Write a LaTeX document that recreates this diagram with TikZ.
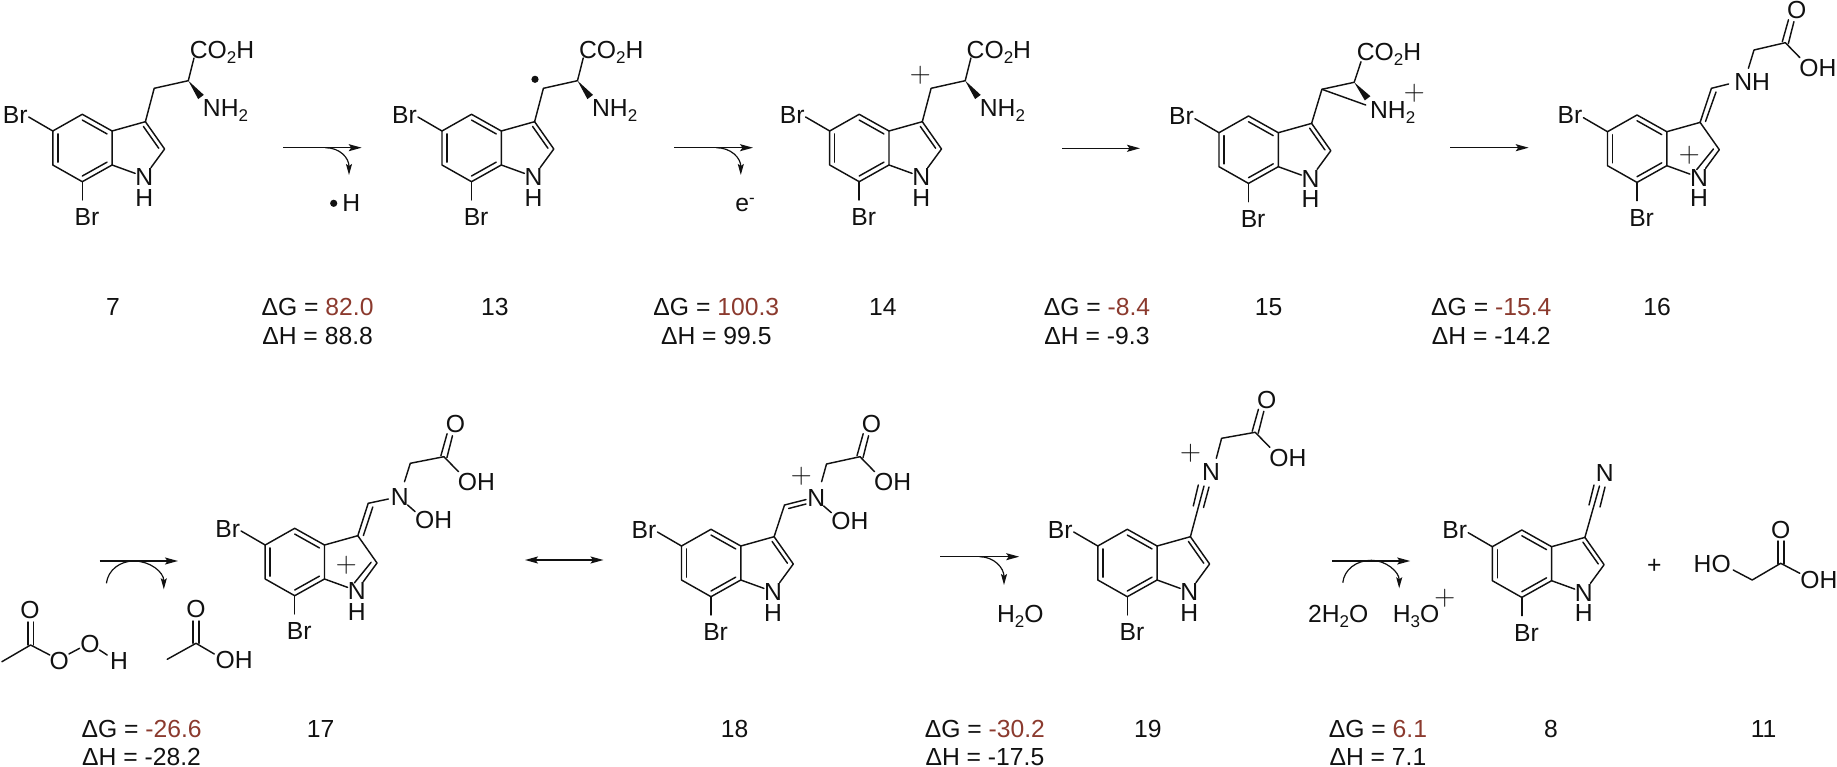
\documentclass[tikz,border=0pt]{standalone}
\usepackage{fontspec}
\usetikzlibrary{arrows.meta,calc}
\newfontfamily\arialf{Liberation Sans}
\definecolor{brn}{HTML}{8B3A2E}
\definecolor{ink}{HTML}{111111}
\tikzset{
  bond/.style={line width=1.45pt,draw=ink,line cap=round},
  lbl/.style={font=\arialf\fontsize{24.7}{25}\selectfont,text=ink,inner sep=0pt,text height=17.5pt,text depth=0pt},
  plusn/.style={font=\rmfamily\fontsize{29}{29}\selectfont,text=ink,inner sep=0pt},
  rxn/.style={line width=1.45pt,draw=ink,-{Stealth[length=13pt,width=7pt,inset=2.5pt]}},
  dblrxn/.style={line width=1.45pt,draw=ink,{Stealth[length=13pt,width=7pt,inset=2.5pt]}-{Stealth[length=13pt,width=7pt,inset=2.5pt]}},
  curv/.style={line width=1.2pt,draw=ink,-{Stealth[length=11pt,width=6pt,inset=2pt]}},
}
\newcommand{\lsub}[1]{\raisebox{-5pt}{\fontsize{17}{18}\selectfont #1}}
% indole benzo ring, anchored at C4
\newcommand{\indole}[3]{%
  \begin{scope}[shift={(#2,#3)}]
    \coordinate (#1c4) at (0,0);
    \coordinate (#1c3a) at (29.8,16.7);
    \coordinate (#1c7a) at (29.8,50.7);
    \coordinate (#1c7) at (0,67.4);
    \coordinate (#1c6) at (-29.5,50.7);
    \coordinate (#1c5) at (-29.5,16.7);
    \coordinate (#1c3) at (63.1,7.4);
    \coordinate (#1c2) at (82.3,34.7);
    \coordinate (#1hc) at (0,33.9);
    \coordinate (#1pc) at (53,31);
    \coordinate (#1b5) at (-53.6,2.7);
    \coordinate (#1b7) at (0,85.7);
    \node[lbl] (#1n) at (62,62.4) {N};
    \node[lbl] (#1h) at (62,83) {H};
    \node[lbl] (#1br5) at (-67,0) {Br};
    \node[lbl] (#1br7) at (4.6,102.4) {Br};
  \end{scope}
  \draw[bond,line join=round] (#1c4)--(#1c3a)--(#1c7a)--(#1c7)--(#1c6)--(#1c5)--cycle;
  \draw[bond] ($(#1c4)!.17!(#1hc)$)--($(#1c3a)!.17!(#1hc)$);
  \draw[bond] ($(#1c7a)!.17!(#1hc)$)--($(#1c7)!.17!(#1hc)$);
  \draw[bond] ($(#1c6)!.17!(#1hc)$)--($(#1c5)!.17!(#1hc)$);
  \draw[bond] (#1c3a)--(#1c3);
  \draw[bond] (#1c7a)--(#1n);
  \draw[bond] (#1c5)--(#1b5);
  \draw[bond] (#1c7)--(#1b7);
}
% neutral pyrrole part: C2=C3
\newcommand{\ringn}[1]{%
  \draw[bond,line join=round] (#1c3)--(#1c2)--(#1n);
  \draw[bond] ($(#1c3)!.2!(#1pc)$)--($(#1c2)!.2!(#1pc)$);
}
% iminium pyrrole part: C2=N
\newcommand{\ringp}[1]{%
  \draw[bond,line join=round] (#1c3)--(#1c2)--(#1n);
  \draw[bond] ($(#1c2)!.2!(#1pc)$)--($(#1n)!.25!(#1pc)$);
}
% amino-acid side chain relative to C4
\newcommand{\sidechain}[3]{%
  \begin{scope}[shift={(#2,#3)}]
    \coordinate (#1ch2) at (71.9,-26);
    \coordinate (#1ch) at (106,-33.6);
    \coordinate (#1cb) at (111.7,-56.3);
    \coordinate (#1we) at (118.7,-17.3);
    \coordinate (#1wa) at (121.5,-19.4);
    \coordinate (#1wb) at (115.9,-15.2);
    \node[lbl] (#1co) at (139.7,-64.3) {CO\lsub{2}H};
    \node[lbl] (#1nh) at (143.2,-6.6) {NH\lsub{2}};
  \end{scope}
  \draw[bond,line join=round] (#1c3)--(#1ch2)--(#1ch)--(#1cb);
  \fill[ink] (#1ch)--(#1wa)--(#1wb)--cycle;
}
% carboxylic acid at carbon position
\newcommand{\acid}[3]{%
  \begin{scope}[shift={(#2,#3)}]
    \coordinate (#1k) at (0,0);
    \coordinate (#1ka) at (-3,-1);
    \coordinate (#1kb) at (3,1);
    \coordinate (#1oa) at (3.2,-23);
    \coordinate (#1ob) at (8.6,-21);
    \coordinate (#1oe) at (14.6,15);
    \node[lbl] (#1o) at (11.5,-32.7) {O};
    \node[lbl] (#1oh) at (32.6,25) {OH};
  \end{scope}
  \draw[bond] (#1ka)--(#1oa);
  \draw[bond] (#1kb)--(#1ob);
  \draw[bond] (#1k)--(#1oe);
}
\begin{document}
\begin{tikzpicture}[x=1pt,y=-1pt]
\useasboundingbox (0,0) rectangle (1837,767);

% --- 7
\indole{a}{82.3}{114.3}\ringn{a}\sidechain{a}{82.3}{114.3}
% --- 13
\indole{b}{471.5}{114.3}\ringn{b}\sidechain{b}{471.5}{114.3}
\coordinate (bdot) at (535,79.3);
\fill[ink] (bdot) circle (3.6pt);
% --- 14
\indole{c}{859.2}{114.3}\ringn{c}\sidechain{c}{859.2}{114.3}
\node[plusn] (cplus) at (920.4,75) {+};
% --- 15
\indole{d}{1248.5}{116}\ringn{d}
\coordinate (dch2) at (1321.9,89.3);
\coordinate (dch) at (1354.2,82.3);
\coordinate (dcb) at (1361,61.7);
\coordinate (dwa) at (1370.4,96.2);
\coordinate (dwb) at (1364.8,100.4);
\coordinate (dne) at (1365.7,105);
\node[lbl] (dco) at (1389,51.7) {CO\lsub{2}H};
\node[lbl] (dnh) at (1392.7,110) {NH\lsub{2}};
\node[plusn] (dplus) at (1414.4,93.3) {+};
\draw[bond,line join=round] (dc3)--(dch2)--(dch)--(dcb);
\draw[bond] (dch2)--(dne);
\fill[ink] (dch)--(dwa)--(dwb)--cycle;
% --- 16
\indole{e}{1637}{115}\ringp{e}
\coordinate (ex) at (1711.4,88.3);
\coordinate (exa) at (1716,92);
\coordinate (exb) at (1705.5,121.5);
\coordinate (exn) at (1728.6,84);
\node[lbl] (enh) at (1752.2,81.7) {NH};
\coordinate (eup) at (1748.4,68.3);
\coordinate (ech2) at (1754,50);
\node[plusn] (eplus) at (1689.4,155) {+};
\draw[bond] (ec3)--(ex)--(exn);
\draw[bond] (exa)--(exb);
\acid{ea}{1785.3}{42.7}
\draw[bond,line join=round] (eup)--(ech2)--(eak);
% --- 17
\indole{f}{294.7}{528.3}\ringp{f}
\coordinate (fx) at (368.2,503.3);
\coordinate (fxa) at (372.8,507);
\coordinate (fxb) at (363.4,535.5);
\coordinate (fxn) at (388.4,499);
\node[lbl] (fnn) at (399.9,496.7) {N};
\node[lbl] (fohn) at (433.6,520) {OH};
\coordinate (fup) at (404.5,481.7);
\coordinate (fch2) at (410.3,463.3);
\coordinate (fno1) at (407.6,505);
\coordinate (fno2) at (415.2,511.7);
\node[plusn] (fplus) at (346.3,565.7) {+};
\draw[bond] (fc3)--(fx)--(fxn);
\draw[bond] (fxa)--(fxb);
\draw[bond] (fno1)--(fno2);
\acid{fa}{443.9}{456.7}
\draw[bond,line join=round] (fup)--(fch2)--(fak);
% --- 18
\indole{g}{711}{529.3}\ringn{g}
\coordinate (gx) at (784.5,505);
\coordinate (gxn) at (806,499.6);
\coordinate (gxa) at (788.6,508.5);
\coordinate (gxb) at (806,504);
\node[lbl] (gnn) at (816.3,497.3) {N};
\node[lbl] (gohn) at (849.8,520.7) {OH};
\coordinate (gup) at (821.6,481.7);
\coordinate (gch2) at (826.5,464);
\coordinate (gno1) at (823.7,506);
\coordinate (gno2) at (831.4,512.7);
\node[plusn] (gplus) at (801.2,476) {+};
\draw[bond] (gc3)--(gx)--(gxn);
\draw[bond] (gxa)--(gxb);
\draw[bond] (gno1)--(gno2);
\acid{ga}{860}{456.7}
\draw[bond,line join=round] (gup)--(gch2)--(gak);
% --- 19
\indole{h}{1127.3}{529.3}\ringn{h}
\node[lbl] (hnn) at (1211,471.7) {N};
\coordinate (ht) at (1204,486);
\coordinate (hta) at (1193.3,506);
\coordinate (htb) at (1198.3,485);
\coordinate (htc) at (1203.5,507.5);
\coordinate (htd) at (1209,487);
\coordinate (hup) at (1216.3,458.3);
\coordinate (hch2) at (1221.6,438.3);
\node[plusn] (hplus) at (1190.5,453.5) {+};
\draw[bond] (hc3)--(ht);
\draw[bond] (hta)--(htb);
\draw[bond] (htc)--(htd);
\acid{ha}{1255.2}{432.3}
\draw[bond,line join=round] (hup)--(hch2)--(hak);
% --- 8
\indole{i}{1521.8}{530}\ringn{i}
\node[lbl] (inn) at (1604.8,472.7) {N};
\coordinate (it) at (1599.5,486);
\coordinate (ita) at (1589,505);
\coordinate (itb) at (1594,485);
\coordinate (itc) at (1600,507);
\coordinate (itd) at (1605,487);
\draw[bond] (ic3)--(it);
\draw[bond] (ita)--(itb);
\draw[bond] (itc)--(itd);
\node[lbl] (iplus) at (1654.3,565) {+};
% --- 11
\node[lbl] (jho) at (1712.2,563.3) {HO};
\coordinate (jb1) at (1733.2,570);
\coordinate (jch2) at (1752.2,580);
\coordinate (jc) at (1780.7,563.3);
\coordinate (jca) at (1778,564);
\coordinate (jcb) at (1784,564);
\coordinate (joa) at (1778,541);
\coordinate (job) at (1784,541);
\coordinate (joe) at (1799.8,573.3);
\node[lbl] (jo) at (1780.7,529.3) {O};
\node[lbl] (joh) at (1818.8,580) {OH};
\draw[bond,line join=round] (jb1)--(jch2)--(jc)--(joe);
\draw[bond] (jca)--(joa);
\draw[bond] (jcb)--(job);
% --- peracid
\coordinate (kme) at (1.9,661.7);
\coordinate (kc) at (30.6,645);
\coordinate (kca) at (27.8,645);
\coordinate (kcb) at (33.4,645);
\coordinate (koa) at (27.8,622);
\coordinate (kob) at (33.4,622);
\coordinate (kcoe) at (49.8,655);
\coordinate (k1a) at (68.9,654);
\coordinate (k1b) at (79.6,648.3);
\coordinate (k2a) at (99.5,650);
\coordinate (k2b) at (107.2,655);
\node[lbl] (ko) at (29.9,610) {O};
\node[lbl] (ko1) at (59.3,660.7) {O};
\node[lbl] (ko2) at (90,644) {O};
\node[lbl] (kh) at (119,660.7) {H};
\draw[bond,line join=round] (kme)--(kc)--(kcoe);
\draw[bond] (kca)--(koa);
\draw[bond] (kcb)--(kob);
\draw[bond] (k1a)--(k1b);
\draw[bond] (k2a)--(k2b);
% --- acetic acid
\coordinate (lme) at (167.2,659.3);
\coordinate (lc) at (196,643.3);
\coordinate (lca) at (193.2,643.3);
\coordinate (lcb) at (198.8,643.3);
\coordinate (loa) at (193.2,621);
\coordinate (lob) at (198.8,621);
\coordinate (loe) at (214.3,654);
\node[lbl] (lo) at (196,609) {O};
\node[lbl] (loh) at (234.2,660) {OH};
\draw[bond,line join=round] (lme)--(lc)--(loe);
\draw[bond] (lca)--(loa);
\draw[bond] (lcb)--(lob);

% --- arrows
\coordinate (r1s) at (283.2,147.7); \coordinate (r1e) at (361.7,147.7);
\coordinate (c1s) at (325.3,147.7); \coordinate (c1e) at (349,175);
\draw[rxn] (r1s)--(r1e);
\draw[curv] (c1s) .. controls (340,147.7) and (349,158) .. (c1e);
\coordinate (hdot) at (333.7,203.3);
\fill[ink] (hdot) circle (3.6pt);
\node[lbl] (hrad) at (351.3,202.7) {H};

\coordinate (r2s) at (674.3,147.7); \coordinate (r2e) at (753,147.7);
\coordinate (c2s) at (716.3,147.7); \coordinate (c2e) at (740.8,175);
\draw[rxn] (r2s)--(r2e);
\draw[curv] (c2s) .. controls (731,147.7) and (740.8,158) .. (c2e);
\node[lbl] (elec) at (745,202.3) {e\raisebox{8pt}{\fontsize{17}{18}\selectfont -}};

\coordinate (r3s) at (1062,148.3); \coordinate (r3e) at (1140,148.3);
\draw[rxn] (r3s)--(r3e);
\coordinate (r4s) at (1450.2,147.7); \coordinate (r4e) at (1528.7,147.7);
\draw[rxn] (r4s)--(r4e);

\coordinate (r5s) at (99.5,561); \coordinate (r5e) at (178,561);
\draw[rxn] (r5s)--(r5e);
\coordinate (c5s) at (106.4,583.3); \coordinate (c5m) at (134,561); \coordinate (c5e) at (163.8,589.3);
\draw[curv] (c5s) .. controls (108,570) and (120,561) .. (c5m) .. controls (150,561) and (163.8,572) .. (c5e);

\coordinate (r6s) at (525,560); \coordinate (r6e) at (603.5,560);
\draw[dblrxn] (r6s)--(r6e);

\coordinate (r7s) at (940,556.7); \coordinate (r7e) at (1019.2,556.7);
\coordinate (c7s) at (979.6,556.7); \coordinate (c7e) at (1004,585);
\draw[rxn] (r7s)--(r7e);
\draw[curv] (c7s) .. controls (994,556.7) and (1004,568) .. (c7e);
\node[lbl] (wat) at (1020.4,613.3) {H\lsub{2}O};

\coordinate (r8s) at (1332.2,561); \coordinate (r8e) at (1410.2,561);
\draw[rxn] (r8s)--(r8e);
\coordinate (c8s) at (1342.8,582.7); \coordinate (c8m) at (1371.4,560.3); \coordinate (c8e) at (1399.2,588.3);
\draw[curv] (c8s) .. controls (1344,570) and (1356,560.3) .. (c8m) .. controls (1386,560.3) and (1399.2,572) .. (c8e);
\node[lbl] (twow) at (1338.2,614) {2H\lsub{2}O};
\node[lbl] (hyd) at (1416,613.3) {H\lsub{3}O};
\node[plusn] (hydp) at (1444.9,598.3) {+};

% --- numbers and energies
\node[lbl] (n7) at (112.9,306.7) {7};
\node[lbl] (n13) at (494.8,306.7) {13};
\node[lbl] (n14) at (882.9,306.7) {14};
\node[lbl] (n15) at (1268.6,306.7) {15};
\node[lbl] (n16) at (1657,306.7) {16};
\node[lbl] (n17) at (320.7,728.3) {17};
\node[lbl] (n18) at (734.7,728.3) {18};
\node[lbl] (n19) at (1147.8,728.3) {19};
\node[lbl] (n8) at (1551,728.3) {8};
\node[lbl] (n11) at (1763.6,728.3) {11};

\node[lbl] (g1) at (317.6,307) {ΔG = \textcolor{brn}{82.0}};
\node[lbl] (h1) at (317.6,336) {ΔH = 88.8};
\node[lbl] (g2) at (716.3,307) {ΔG = \textcolor{brn}{100.3}};
\node[lbl] (h2) at (716.3,336) {ΔH = 99.5};
\node[lbl] (g3) at (1097,307) {ΔG = \textcolor{brn}{-8.4}};
\node[lbl] (h3) at (1097,336) {ΔH = -9.3};
\node[lbl] (g4) at (1491.3,307) {ΔG = \textcolor{brn}{-15.4}};
\node[lbl] (h4) at (1491.3,336) {ΔH = -14.2};
\node[lbl] (g5) at (141.6,729) {ΔG = \textcolor{brn}{-26.6}};
\node[lbl] (h5) at (141.6,756.5) {ΔH = -28.2};
\node[lbl] (g6) at (984.9,729) {ΔG = \textcolor{brn}{-30.2}};
\node[lbl] (h6) at (984.9,756.5) {ΔH = -17.5};
\node[lbl] (g7) at (1377.9,729) {ΔG = \textcolor{brn}{6.1}};
\node[lbl] (h7) at (1377.9,756.5) {ΔH = 7.1};
\end{tikzpicture}
\end{document}
